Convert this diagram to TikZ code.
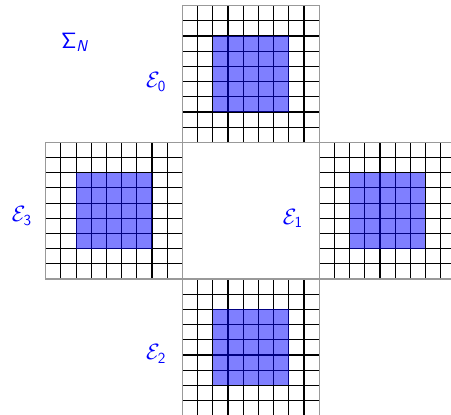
\documentclass[tikz,border=0pt]{standalone}
\usepackage{amsmath,amssymb}
\usetikzlibrary{positioning}

\begin{document}
\begin{tikzpicture}[x=0.5cm, y=0.5cm, every node/.style={font=\fontsize{21}{25}\selectfont, text=blue}]
\tikzset{meshline/.style={line width=1.1pt, black, step=1}}
\tikzset{rimline/.style={line width=1.1pt, gray!80}}
\tikzset{corefill/.style={fill=blue, fill opacity=0.5}}
\useasboundingbox (-12.01,-8.89) rectangle (17.68,18.37);
\clip (-12.01,-8.89) rectangle (17.68,18.37);
% the four blocks round the empty square
\foreach \gx/\gy in {0/9, 9/0, 0/-9, -9/0} {
  \begin{scope}[shift={(\gx,\gy)}]
    \draw[meshline] (0,0) grid (9,9);
    \fill[corefill] (2,2) rectangle (7,7);
    \draw[rimline] (0,0) rectangle (9,9);
  \end{scope}
}
\node (sigmaN) at (-7.08,15.6) {$\mathsf{\Sigma}_{\textsf{\textit{N}}}$};
\node (e0) at (-1.74,12.97) {$\mathcal{E}_{\mathsf{0}}$};
\node (e1) at (7.27,4.0) {$\mathcal{E}_{\mathsf{1}}$};
\node (e2) at (-1.74,-4.94) {$\mathcal{E}_{\mathsf{2}}$};
\node (e3) at (-10.57,4.15) {$\mathcal{E}_{\mathsf{3}}$};
\end{tikzpicture}
\end{document}
